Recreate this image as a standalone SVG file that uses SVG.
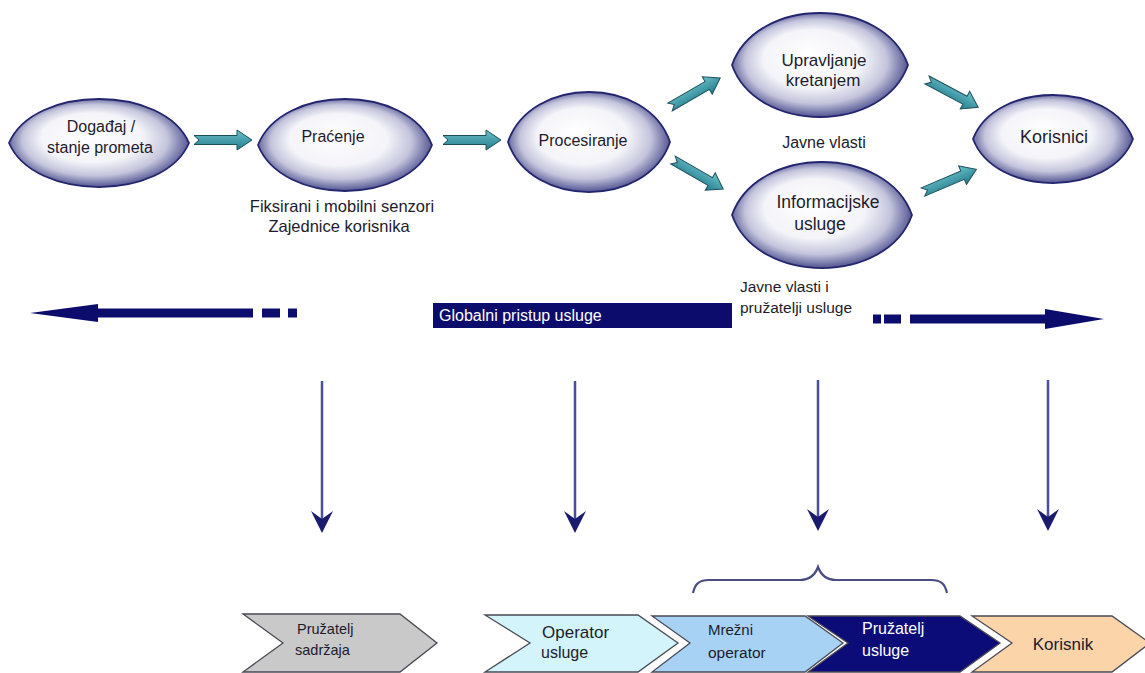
<svg xmlns="http://www.w3.org/2000/svg" xmlns:xlink="http://www.w3.org/1999/xlink" width="1145" height="673" viewBox="0 0 1145 673">
<style>
.t{font-family:"Liberation Sans",Arial,sans-serif;fill:#1c1c2c}
.c{text-anchor:middle}
.w{fill:#ffffff}
.node{fill:url(#eg);stroke:#23256e;stroke-width:1.8}
.chev{stroke:#4a4a55;stroke-width:1.3}
.vline{stroke:#4a4f9c;stroke-width:2.5;fill:none}
.vhead{fill:#1a1b6c}
.navy{fill:#0c0c6c}
</style>
<defs>
<radialGradient id="eg" cx="0.5" cy="0.5" r="0.56" fx="0.42" fy="0.38">
<stop offset="0" stop-color="#ffffff"/>
<stop offset="0.5" stop-color="#f4f4f9"/>
<stop offset="0.72" stop-color="#c4c5dc"/>
<stop offset="0.87" stop-color="#6a6ca2"/>
<stop offset="1" stop-color="#191b62"/>
</radialGradient>
<linearGradient id="tg" x1="0" y1="0" x2="0" y2="1">
<stop offset="0" stop-color="#6cc3cc"/>
<stop offset="1" stop-color="#22798a"/>
</linearGradient>
<path id="ta" d="M0,-4.5 L43,-4.5 L43,-10 L58,0 L43,10 L43,4.5 L0,4.5 L5,0 Z" fill="url(#tg)" stroke="#1d4f5a" stroke-width="1"/>
<path id="vh" d="M0,0 L-11,-22 L0,-14 L11,-22 Z"/>
</defs>
<rect width="1145" height="673" fill="#ffffff"/>

<g id="connectors">
<use xlink:href="#ta" transform="translate(194,140)"/>
<use xlink:href="#ta" transform="translate(443,140)"/>
<use xlink:href="#ta" transform="translate(670,107) rotate(-30)"/>
<use xlink:href="#ta" transform="translate(673,160) rotate(30)"/>
<use xlink:href="#ta" transform="translate(927,80) rotate(28)"/>
<use xlink:href="#ta" transform="translate(923,192) rotate(-23)"/>
<g id="vertical-arrows">
<line class="vline" x1="322" y1="381" x2="322" y2="520"/>
<use xlink:href="#vh" class="vhead" transform="translate(322,533)"/>
<line class="vline" x1="575" y1="381" x2="575" y2="520"/>
<use xlink:href="#vh" class="vhead" transform="translate(575,533)"/>
<line class="vline" x1="818" y1="380" x2="818" y2="518"/>
<use xlink:href="#vh" class="vhead" transform="translate(818,531)"/>
<line class="vline" x1="1048" y1="380" x2="1048" y2="518"/>
<use xlink:href="#vh" class="vhead" transform="translate(1048,531)"/>
</g>
<path id="brace" d="M693,593 C695,584 699,580 709,580 L800,580 C810,580 815,575 818,567 C821,575 826,580 836,580 L931,580 C941,580 945,584 947,593" fill="none" stroke="#4a4d80" stroke-width="2.2"/>
</g>

<g id="scope-arrows">
<path class="navy" d="M30,313 L98,304 L98,308.5 L253,308.5 L253,317.5 L98,317.5 L98,322 Z"/>
<rect class="navy" x="262" y="308.5" width="18" height="9"/>
<rect class="navy" x="288" y="308.5" width="9" height="9"/>
<rect class="navy" x="873" y="314.5" width="8" height="9"/>
<rect class="navy" x="884" y="314.5" width="17" height="9"/>
<path class="navy" d="M910,314.5 L1045,314.5 L1045,309 L1104,319 L1045,329 L1045,323.5 L910,323.5 Z"/>
</g>

<g id="global-bar">
<rect class="navy" x="433" y="303" width="299" height="25"/>
<text class="t w" x="439" y="320.5" font-size="16">Globalni pristup usluge</text>
</g>
<g id="label-javne-pruz">
<text class="t" x="740" y="292" font-size="15.5">Javne vlasti i</text>
<text class="t" x="740" y="313" font-size="15.5">pružatelji usluge</text>
</g>

<g id="node-dogadaj">
<path class="node" d="M9,143 C34.2,84.3 163.8,84.3 189,143 C163.8,201.7 34.2,201.7 9,143Z"/>
<text class="t c" x="101" y="132" font-size="16">Događaj /</text>
<text class="t c" x="100" y="153" font-size="16">stanje prometa</text>
</g>
<g id="node-pracenje">
<path class="node" d="M258,145 C282.4,83.7 407.6,83.7 432,145 C407.6,206.3 282.4,206.3 258,145Z"/>
<text class="t c" x="333" y="142" font-size="16">Praćenje</text>
<text class="t c" x="342" y="212" font-size="16.5">Fiksirani i mobilni senzori</text>
<text class="t c" x="339" y="232" font-size="16.5">Zajednice korisnika</text>
</g>
<g id="node-procesiranje">
<path class="node" d="M508,142 C530.7,75.3 647.3,75.3 670,142 C647.3,208.7 530.7,208.7 508,142Z"/>
<text class="t c" x="583" y="146" font-size="16">Procesiranje</text>
</g>
<g id="node-upravljanje">
<path class="node" d="M732,65 C756.6,-4.3 883.4,-4.3 908,65 C883.4,134.3 756.6,134.3 732,65Z"/>
<text class="t c" x="824" y="66" font-size="17">Upravljanje</text>
<text class="t c" x="823" y="86" font-size="17">kretanjem</text>
<text class="t c" x="824" y="148" font-size="16">Javne vlasti</text>
</g>
<g id="node-informacijske">
<path class="node" d="M732,215 C757.2,144.3 886.8,144.3 912,215 C886.8,285.7 757.2,285.7 732,215Z"/>
<text class="t c" x="828" y="208" font-size="17.5">Informacijske</text>
<text class="t c" x="820" y="230" font-size="17.5">usluge</text>
</g>
<g id="node-korisnici">
<path class="node" d="M973,139 C995.4,80.3 1110.6,80.3 1133,139 C1110.6,197.7 995.4,197.7 973,139Z"/>
<text class="t c" x="1054" y="143" font-size="18">Korisnici</text>
</g>

<g id="chev-pruzatelj-sadrzaja">
<path class="chev" fill="#c9c9c9" d="M243,614 L400,614 L437,643 L400,672 L243,672 L283,643 Z"/>
<text class="t" x="297" y="634" font-size="14.5" fill="#2a2a35">Pružatelj</text>
<text class="t" x="295" y="655" font-size="14.5" fill="#2a2a35">sadržaja</text>
</g>
<g id="chev-operator-usluge">
<path class="chev" fill="#d3f4fa" d="M485,615 L638,615 L678,643 L638,672 L485,672 L530,643 Z"/>
<text class="t" x="542" y="638" font-size="17">Operator</text>
<text class="t" x="541" y="658" font-size="16">usluge</text>
</g>
<g id="chev-mrezni-operator">
<path class="chev" fill="#a8d2f4" d="M652,616 L805,616 L843,643 L805,672 L652,672 L690,643 Z"/>
<text class="t" x="708" y="635" font-size="15">Mrežni</text>
<text class="t" x="708" y="658" font-size="15.5">operator</text>
</g>
<g id="chev-pruzatelj-usluge">
<path class="chev" fill="#0c0c78" d="M808,616 L960,616 L1000,643 L960,672 L808,672 L848,643 Z"/>
<text class="t w" x="862" y="634" font-size="16">Pružatelj</text>
<text class="t w" x="862" y="656" font-size="16">usluge</text>
</g>
<g id="chev-korisnik">
<path class="chev" fill="#fbd4aa" d="M972,616 L1112,616 L1150,643 L1112,672 L972,672 L1012,643 Z"/>
<text class="t c" x="1063" y="650" font-size="17">Korisnik</text>
</g>
</svg>
